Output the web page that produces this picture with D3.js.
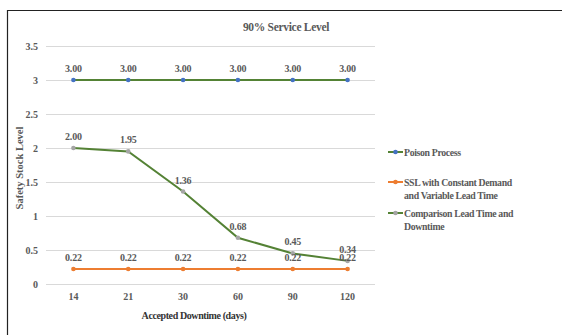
<!DOCTYPE html>
<html><head><meta charset="utf-8">
<script src="https://cdn.jsdelivr.net/npm/d3@7/dist/d3.min.js"></script>
<style>body{margin:0;background:#fff}svg{display:block}</style>
</head><body><svg id="c" width="562" height="335"></svg>
<script>
const categories = ["14","21","30","60","90","120"];
const poison = [3.00,3.00,3.00,3.00,3.00,3.00];
const sslConst = [0.22,0.22,0.22,0.22,0.22,0.22];
const comparison = [2.00,1.95,1.36,0.68,0.45,0.34];
const yTicks = [0,0.5,1,1.5,2,2.5,3,3.5];
const seriesNames = ["Poison Process","SSL with Constant Demand|and Variable Lead Time","Comparison Lead Time and|Downtime"];

const svg = d3.select("#c");
const font = "'Liberation Serif', 'Times New Roman', serif";
const grey = "#595959";
// frame
svg.append("path").attr("d","M7.5,335 L7.5,10.5 L562,10.5").attr("fill","none").attr("stroke","#222").attr("stroke-width",1.2);

const x = d3.scaleBand().domain(categories).range([46,375]);
const y = d3.scaleLinear().domain([0,3.5]).range([284,46]);

// gridlines
svg.append("g").selectAll("line").data(yTicks).join("line")
  .attr("x1",46).attr("x2",375).attr("y1",d=>Math.round(y(d))+0.5).attr("y2",d=>Math.round(y(d))+0.5)
  .attr("stroke","#d9d9d9").attr("stroke-width",1);

// y axis labels
const yAxis = d3.axisLeft(y).tickValues(yTicks).tickSize(0).tickPadding(0).tickFormat(d=>d3.format("")(d));
const gy = svg.append("g").attr("transform","translate(38,0)").call(yAxis);
gy.select(".domain").remove();
gy.selectAll("text").attr("font-family",font).attr("font-weight","bold").attr("font-size",10).attr("fill",grey);

const xAxis = d3.axisBottom(x).tickSize(0).tickPadding(0);
const gx = svg.append("g").attr("transform","translate(0,293)").call(xAxis);
gx.select(".domain").remove();
gx.selectAll("text").attr("font-family",font).attr("font-weight","bold").attr("font-size",10).attr("fill",grey);

const cx = d => x(d) + x.bandwidth()/2;
const line = d3.line().x((d,i)=>cx(categories[i])).y(d=>y(d));

const series = [
  {vals:poison, line:"#548235", marker:"#4472c4"},
  {vals:sslConst, line:"#ed7d31", marker:"#ed7d31"},
  {vals:comparison, line:"#548235", marker:"#a5a5a5"}
];
// draw order: ssl, comparison, poison
[1,2,0].forEach(k=>{
  const s = series[k];
  svg.append("path").datum(s.vals).attr("d",line).attr("fill","none").attr("stroke",s.line).attr("stroke-width",2);
  svg.append("g").selectAll("circle").data(s.vals).join("circle")
    .attr("cx",(d,i)=>cx(categories[i])).attr("cy",d=>y(d)).attr("r",2.3).attr("fill",s.marker);
});
// data labels
series.forEach(s=>{
  svg.append("g").selectAll("text").data(s.vals).join("text")
    .attr("x",(d,i)=>cx(categories[i])).attr("y",d=>y(d)-8)
    .attr("text-anchor","middle").attr("font-family",font).attr("font-weight","bold").attr("font-size",10)
    .attr("letter-spacing",-0.2).attr("fill",grey)
    .text(d=>d3.format(".2f")(d));
});

// titles
svg.append("text").attr("x",286).attr("y",31).attr("text-anchor","middle").attr("font-family",font).attr("font-weight","bold").attr("font-size",11.5).attr("letter-spacing",-0.3).attr("fill",grey).text("90% Service Level");
svg.append("text").attr("x",194).attr("y",319).attr("text-anchor","middle").attr("font-family",font).attr("font-weight","bold").attr("font-size",10).attr("letter-spacing",-0.4).attr("fill","#333").text("Accepted Downtime (days)");
svg.append("text").attr("transform","translate(23,168) rotate(-90)").attr("text-anchor","middle").attr("font-family",font).attr("font-weight","bold").attr("font-size",10.5).attr("fill",grey).text("Safety Stock Level");

// legend
const legY = [152,182,213];
series.forEach((s,k)=>{
  const g = svg.append("g").attr("transform",`translate(388,${legY[k]})`);
  g.append("line").attr("x1",0).attr("x2",15).attr("y1",0).attr("y2",0).attr("stroke",s.line).attr("stroke-width",2);
  g.append("circle").attr("cx",7.5).attr("cy",0).attr("r",2.3).attr("fill",s.marker);
  const t = g.append("text").attr("x",16).attr("y",4).attr("font-family",font).attr("font-weight","bold").attr("font-size",9.8).attr("letter-spacing",-0.35).attr("fill",grey);
  seriesNames[k].split("|").forEach((ln,i)=>{
    t.append("tspan").attr("x",16).attr("dy",i?12.5:0).text(ln);
  });
});
</script></body></html>
